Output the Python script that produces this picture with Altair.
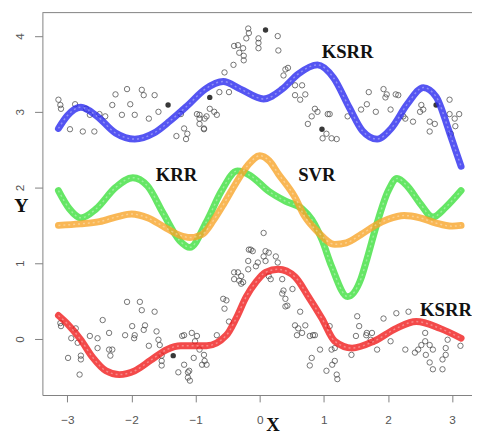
import altair as alt
import pandas as pd

x_ticks = [-3, -2, -1, 0, 1, 2, 3]
y_ticks = [0, 1, 2, 3, 4]

# observed points (upper group)
top_pts = [(-3.14,3.16),(-3.11,3.09),(-3.10,3.04),(-2.88,3.10),(-2.96,2.77),(-2.76,2.74),(-2.58,2.74),
           (-2.71,3.04),(-2.65,2.96),(-2.50,2.97),(-2.41,2.94),(-2.25,3.23),(-2.30,3.09),(-2.15,2.96),
           (-2.07,3.30),(-2.02,3.10),(-1.95,2.96),(-1.84,3.29),(-1.81,3.22),(-1.73,2.91),(-1.64,3.22),
           (-1.58,3.00),(-1.23,2.97),(-1.30,2.68),(-1.18,2.78),(-1.15,2.64),(-1.13,2.71),
           (-0.98,2.97),(-0.94,2.91),(-0.83,2.94),(-0.71,3.00),(-0.87,2.77),(-0.55,3.52),(-0.41,3.62),
           (-0.40,3.87),(-0.18,4.10),(-0.17,4.04),(-0.21,3.97),(-0.34,3.88),(-0.26,3.84),(-0.32,3.78),
           (-0.25,3.74),(-0.25,3.68),(-0.02,3.97),(-0.02,3.91),(-0.02,3.84),(0.28,4.00),(0.29,3.81),
           (-0.63,3.26),(-0.48,3.26),(-0.78,3.04),(-0.94,2.96),(-0.86,2.91),(-0.67,2.96),(-0.94,2.84),
           (-0.87,2.78),(0.40,3.56),(0.44,3.58),(0.37,3.48),(0.55,3.35),(0.66,3.35),(0.55,3.22),
           (0.63,3.16),(0.71,3.23),(0.86,3.04),(0.81,2.94),(0.75,2.84),(0.90,3.00),(1.06,2.97),
           (0.98,2.65),(1.12,2.65),(1.09,2.97),(1.04,2.71),(1.20,2.64),(1.37,2.94),(1.58,3.03),
           (1.67,3.10),(1.70,3.26),(1.81,3.00),(1.93,3.30),(1.98,3.23),(1.96,3.19),(2.04,3.03),
           (2.12,3.23),(2.16,3.22),(2.24,2.94),(2.27,2.91),(2.39,2.87),(2.52,3.09),(2.55,3.03),
           (2.50,3.00),(2.65,2.87),(2.73,2.84),(2.65,2.74),(2.96,3.16),(2.96,2.97),(3.04,2.91),
           (3.11,2.97),(3.05,2.81),(2.98,2.71)]

# observed points (lower group)
bottom_pts = [(-3.11,0.21),(-3.10,0.17),(-2.94,0.01),(-2.87,0.14),(-2.99,-0.25),(-2.79,-0.22),(-2.79,-0.27),
              (-2.81,-0.47),(-2.84,-0.05),(-2.65,0.04),(-2.53,0.01),(-2.45,0.25),(-2.53,-0.12),(-2.35,0.08),
              (-2.35,-0.14),(-2.30,-0.14),(-2.33,-0.22),(-2.07,0.49),(-1.99,0.17),(-2.10,0.05),(-1.95,0.05),
              (-1.96,0.01),(-1.87,0.49),(-1.84,0.38),(-1.64,0.36),(-1.79,0.18),(-1.81,0.12),(-1.61,0.10),
              (-1.73,-0.09),(-1.58,-0.01),(-1.56,-0.08),(-1.53,-0.22),(-1.53,-0.29),(-1.53,-0.35),
              (-1.27,-0.44),(-1.18,-0.34),(-1.18,0.05),(-1.12,-0.44),(-1.12,-0.51),(-1.21,0.04),(-0.98,0.04),
              (-1.01,-0.03),(-0.94,-0.14),(-0.87,-0.21),(-0.86,-0.29),(-0.83,-0.34),(-1.03,-0.25),(-1.06,0.08),
              (-0.67,0.05),(-0.57,0.53),(-0.52,0.51),(-0.55,0.40),(-0.40,0.88),(-0.40,0.79),(-1.10,-0.42),
              (-1.09,-0.55),(-0.90,-0.34),(-0.48,0.23),(-0.34,0.88),(-0.29,0.83),(-0.29,0.73),(-0.32,0.77),
              (-0.18,1.03),(-0.17,1.18),(-0.11,1.16),(-0.18,0.92),(-0.06,0.96),(-0.03,1.01),(0.06,1.40),
              (0.09,1.16),(0.06,1.09),(0.09,1.03),(0.25,1.09),(0.28,1.01),(0.14,0.83),(0.17,0.79),(0.35,0.79),
              (0.37,0.64),(0.35,0.60),(0.40,0.53),(0.43,0.44),(0.51,0.66),(0.63,0.36),(0.55,0.18),(0.60,0.14),
              (0.71,0.18),(0.66,0.08),(0.78,0.04),(0.83,0.05),(0.94,-0.14),(0.81,-0.25),(0.78,-0.35),
              (1.04,-0.42),(1.09,0.17),(1.12,-0.14),(1.13,-0.34),(-0.14,1.18),(-0.26,0.75),(0.14,1.14),
              (0.40,0.43),(0.86,0.05),(0.58,0.05),(1.17,-0.12),(1.17,-0.29),(1.20,-0.47),(1.21,-0.53),
              (1.43,-0.21),(1.52,0.30),(1.55,0.17),(1.50,0.04),(1.66,0.05),(1.67,0.08),(1.75,0.08),
              (1.73,-0.01),(1.83,-0.14),(2.04,-0.03),(1.93,0.27),(2.13,0.34),(2.32,0.36),(2.27,-0.14),
              (2.42,-0.18),(2.47,-0.14),(2.58,0.08),(2.58,-0.03),(2.52,-0.08),(2.65,-0.08),(2.70,-0.14),
              (2.59,-0.21),(2.65,-0.31),(2.70,-0.40),(2.90,-0.12),(2.90,-0.21),(2.85,-0.27),(2.85,-0.40),
              (2.93,-0.01),(3.13,-0.09)]

filled_pts = [(-1.43,3.09),(-0.78,3.19),(0.09,4.08),(0.97,2.77),(2.75,3.09),(-1.35,-0.22)]

# fitted curves
ksrr_top = [(-3.14,2.78),(-3.0,2.95),(-2.79,3.06),(-2.55,2.95),(-2.25,2.72),(-1.95,2.64),(-1.65,2.72),
            (-1.4,2.88),(-1.13,3.08),(-0.85,3.3),(-0.57,3.4),(-0.3,3.3),(0.06,3.17),(0.35,3.3),(0.6,3.5),
            (0.9,3.62),(1.15,3.45),(1.4,3.05),(1.6,2.75),(1.83,2.64),(2.05,2.78),(2.3,3.1),(2.55,3.32),
            (2.75,3.2),(2.95,2.75),(3.05,2.5),(3.14,2.28)]
krr = [(-3.14,1.96),(-2.97,1.72),(-2.79,1.6),(-2.55,1.72),(-2.25,2.0),(-1.98,2.13),(-1.75,2.02),
       (-1.5,1.65),(-1.25,1.3),(-1.09,1.21),(-0.83,1.55),(-0.6,1.95),(-0.35,2.22),(-0.15,2.16),(0.14,1.95),
       (0.4,1.82),(0.66,1.72),(0.81,1.58),(0.97,1.31),(1.12,0.96),(1.37,0.56),(1.58,0.8),(1.67,1.05),
       (1.83,1.53),(2.0,1.95),(2.14,2.12),(2.3,2.02),(2.5,1.79),(2.7,1.61),(2.9,1.74),(3.14,1.96)]
svr = [(-3.14,1.5),(-2.8,1.52),(-2.5,1.55),(-2.2,1.62),(-2.0,1.65),(-1.75,1.6),(-1.49,1.48),(-1.25,1.37),
       (-1.09,1.34),(-0.9,1.38),(-0.72,1.57),(-0.55,1.8),(-0.37,2.06),(-0.18,2.3),(0.0,2.42),(0.15,2.35),
       (0.29,2.18),(0.55,1.87),(0.7,1.62),(0.9,1.42),(1.17,1.25),(1.35,1.27),(1.58,1.38),(1.8,1.5),
       (2.0,1.58),(2.25,1.63),(2.5,1.6),(2.75,1.53),(3.0,1.49),(3.14,1.5)]
ksrr_bottom = [(-3.14,0.31),(-3.0,0.2),(-2.8,0.0),(-2.6,-0.25),(-2.4,-0.42),(-2.19,-0.47),(-1.95,-0.42),
               (-1.7,-0.28),(-1.45,-0.14),(-1.23,-0.09),(-0.83,-0.09),(-0.52,0.05),(-0.37,0.27),(-0.21,0.56),
               (-0.06,0.75),(0.09,0.88),(0.29,0.92),(0.55,0.82),(0.75,0.57),(0.97,0.27),(1.17,-0.03),
               (1.44,-0.12),(1.78,-0.03),(2.13,0.14),(2.44,0.23),(2.81,0.14),(3.14,0.01)]

labels = [("KSRR", 1.37, 3.79, "center"), ("KRR", -1.30, 2.16, "center"),
          ("SVR", 0.89, 2.17, "center"), ("KSRR", 2.50, 0.38, "left")]

W, H = 437, 389
xs = alt.Scale(domain=[-3.39, 3.31], nice=False, zero=False)
ys = alt.Scale(domain=[-0.74, 4.31], nice=False, zero=False)
AX = "#808080"

x_axis = alt.Axis(values=x_ticks, title="X", grid=False, tickSize=7, domainColor=AX, tickColor=AX,
                  labelColor="#555", labelFont="Liberation Sans", labelFontSize=12, labelPadding=13,
                  titleFont="Liberation Serif", titleFontWeight="bold", titleFontSize=19,
                  titleColor="#111", titleBaseline="top", titleY=21, titleX=234)
y_axis = alt.Axis(values=y_ticks, title="Y", grid=False, tickSize=8, domainColor=AX, tickColor=AX,
                  labelColor="#555", labelFont="Liberation Sans", labelFontSize=12, labelPadding=8,
                  labelAngle=270, labelAlign="center", labelBaseline="bottom",
                  titleFont="Liberation Serif", titleFontWeight="bold", titleFontSize=20,
                  titleColor="#111", titleAngle=0, titleX=-22, titleY=196,
                  titleAlign="center", titleBaseline="middle")

X = alt.X("x:Q", scale=xs, axis=x_axis)
Y = alt.Y("y:Q", scale=ys, axis=y_axis)


def df(pts):
    return pd.DataFrame(pts, columns=["x", "y"])


pts_layer = alt.Chart(pd.concat([df(top_pts), df(bottom_pts)], ignore_index=True)).mark_point(
    shape="circle", filled=False, size=30, strokeWidth=1, color="#444", opacity=0.75
).encode(x=X, y=Y)

filled_layer = alt.Chart(df(filled_pts)).mark_point(
    shape="circle", filled=True, size=30, color="#222", opacity=0.9
).encode(x=X, y=Y)

curve_layers = []
for pts, col in [(krr, "#3ee03e"), (svr, "#f7a52a"), (ksrr_top, "#2b2bef"), (ksrr_bottom, "#f01d1d")]:
    base = alt.Chart(df(pts)).encode(x=X, y=Y)
    curve_layers.append(base.mark_line(interpolate="monotone", strokeWidth=7, color=col,
                                       opacity=0.8, strokeCap="round"))
    curve_layers.append(base.mark_line(interpolate="monotone", strokeWidth=1.5, color="white",
                                       opacity=0.35, strokeDash=[2, 3]))

lab_df = pd.DataFrame(labels, columns=["t", "x", "y", "a"])
text_layers = []
for a in ["center", "left"]:
    text_layers.append(alt.Chart(lab_df[lab_df.a == a]).mark_text(
        font="Liberation Serif", fontWeight="bold", fontSize=19, color="#111", align=a, baseline="middle"
    ).encode(x=X, y=Y, text="t:N"))

top_line = alt.Chart(pd.DataFrame({"k": [0]})).mark_rule(color=AX, strokeWidth=1).encode(
    x=alt.value(0), x2=alt.value(W), y=alt.value(0))

chart = alt.layer(pts_layer, filled_layer, *curve_layers, *text_layers, top_line).properties(
    width=W, height=H,
    autosize=alt.AutoSizeParams(type="none"),
    padding={"left": 35, "top": 1, "right": 0, "bottom": 38},
).configure_view(stroke=None)

chart.save("out.html", embed_options={"renderer": "svg", "actions": False})
